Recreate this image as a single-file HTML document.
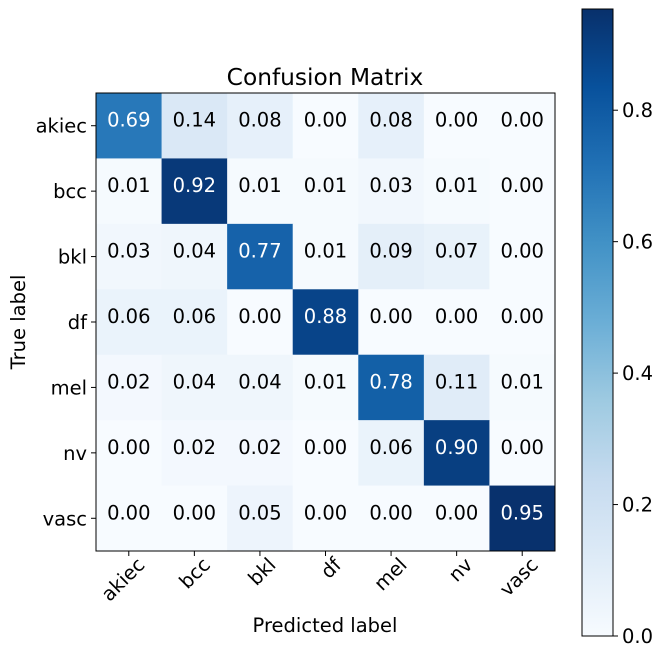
<!DOCTYPE html>
<html><head><meta charset="utf-8"><style>
body{margin:0;background:#fff}
svg text{font-family:"DejaVu Sans","Liberation Sans",sans-serif}
</style></head><body>
<svg id="c" width="664" height="657" xmlns="http://www.w3.org/2000/svg">
<defs><linearGradient id="g" x1="0" y1="1" x2="0" y2="0">
<stop offset="0" stop-color="#f7fbff"/><stop offset="0.125" stop-color="#deebf7"/><stop offset="0.25" stop-color="#c6dbef"/><stop offset="0.375" stop-color="#9ecae1"/><stop offset="0.5" stop-color="#6baed6"/><stop offset="0.625" stop-color="#4292c6"/><stop offset="0.75" stop-color="#2171b5"/><stop offset="0.875" stop-color="#08519c"/><stop offset="1" stop-color="#08306b"/>
</linearGradient></defs>
<g id="cells"></g>
<rect x="96" y="93" width="459" height="458" fill="none" stroke="#000" stroke-width="1"/>
<text x="325" y="85" font-size="23.3" text-anchor="middle">Confusion Matrix</text>
<text x="325" y="632" font-size="19.5" text-anchor="middle">Predicted label</text>
<text x="25" y="322" font-size="19.5" text-anchor="middle" transform="rotate(-90 25 322)">True label</text>
<g id="axes"></g>
<rect x="582" y="9" width="31" height="627" fill="url(#g)" stroke="#000" stroke-width="1"/>
<g id="cbar"></g>
</svg>
<script>
const labels=["akiec","bcc","bkl","df","mel","nv","vasc"];
const row0=[0.69,0.14,0.08,0.00,0.08,0.00,0.00];
const row1=[0.01,0.92,0.01,0.01,0.03,0.01,0.00];
const row2=[0.03,0.04,0.77,0.01,0.09,0.07,0.00];
const row3=[0.06,0.06,0.00,0.88,0.00,0.00,0.00];
const row4=[0.02,0.04,0.04,0.01,0.78,0.11,0.01];
const row5=[0.00,0.02,0.02,0.00,0.06,0.90,0.00];
const row6=[0.00,0.00,0.05,0.00,0.00,0.00,0.95];
const rows=[row0,row1,row2,row3,row4,row5,row6];
const cbTicks=[0.0,0.2,0.4,0.6,0.8];
const vmax=0.954;
const NS="http://www.w3.org/2000/svg";
const L=96,T=93,W=459,H=458,n=labels.length,cw=W/n,ch=H/n,FS=19.5;
const stops=[[247,251,255],[222,235,247],[198,219,239],[158,202,225],[107,174,214],[66,146,198],[33,113,181],[8,81,156],[8,48,107]];
function cmap(v){let t=Math.max(0,Math.min(1,v/vmax))*8;let i=Math.min(7,Math.floor(t)),f=t-i;const a=stops[i],b=stops[i+1];return `rgb(${a.map((x,k)=>Math.round(x+(b[k]-x)*f)).join(',')})`;}
function mk(tag,attrs,parent,txt){const e=document.createElementNS(NS,tag);for(const k in attrs)e.setAttribute(k,attrs[k]);if(txt!==undefined)e.textContent=txt;parent.appendChild(e);return e;}
const cells=document.getElementById('cells'),axes=document.getElementById('axes'),cb=document.getElementById('cbar');
const xs=j=>L+cw*j, ys=i=>T+ch*i;
rows.forEach((r,i)=>r.forEach((v,j)=>{
 const rc=mk('rect',{x:xs(j),y:ys(i),width:cw+0.5,height:ch+0.5,fill:cmap(v)},cells);
 
 
 const tx=mk('text',{x:xs(j)+cw/2,y:ys(i)+ch/2+1,'font-size':FS,'text-anchor':'middle',fill:v>vmax/2?'#fff':'#000'},cells,v.toFixed(2));
 
 
}));
labels.forEach((l,k)=>{
 const yc=ys(k)+ch/2, xc=xs(k)+cw/2;
 mk('line',{x1:L-5,x2:L,y1:yc,y2:yc,stroke:'#000'},axes);
 const t1=mk('text',{x:L-9,y:yc+7,'font-size':FS,'text-anchor':'end'},axes,l);
 
 
 mk('line',{x1:xc,x2:xc,y1:T+H,y2:T+H+5,stroke:'#000'},axes);
 const ax=xc+17, ay=T+H+15;
 const t2=mk('text',{x:ax,y:ay,'font-size':FS,'text-anchor':'end',transform:`rotate(-45 ${ax} ${ay})`},axes,l);
 
 
});
cbTicks.forEach(v=>{
 const y=636-627*v/vmax;
 mk('line',{x1:613,x2:618,y1:y,y2:y,stroke:'#000'},cb);
 const t=mk('text',{x:622,y:y+7,'font-size':FS},cb,v.toFixed(1));
 
 
});
</script>
</body></html>
